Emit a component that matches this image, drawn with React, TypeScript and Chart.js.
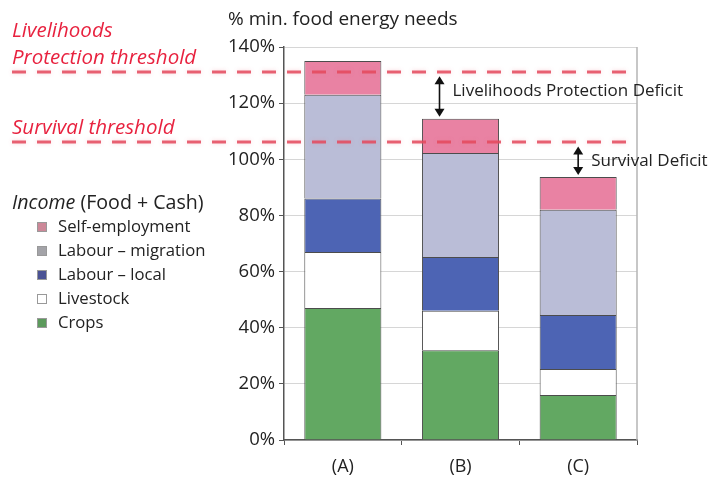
import { useEffect, useRef } from 'react';
import { Chart, registerables } from 'chart.js';

Chart.register(...registerables);

// Household income by source, as % of minimum food energy needs
const categories = ['(A)', '(B)', '(C)'];
const crops = [47, 32, 16];
const livestock = [20, 14, 9.3];
const labourLocal = [19, 19.2, 19.2];
const labourMigration = [37, 37, 37.5];
const selfEmployment = [12, 12.2, 11.7];

const seriesNames = ['Crops', 'Livestock', 'Labour – local', 'Labour – migration', 'Self-employment'];
const seriesFills = ['#62a862', '#ffffff', '#4d64b4', '#babdd7', '#e982a3'];
const legendFills = ['#5c9a5c', '#ffffff', '#4a5294', '#a3a3a8', '#cc8898'];

const yTickValues = [0, 20, 40, 60, 80, 100, 120, 140];

// Thresholds and the deficit each one shows
const thresholdValues = [131, 106];
const thresholdLabels = [['Livelihoods', 'Protection threshold'], ['Survival threshold']];
const deficitLabels = ['Livelihoods Protection Deficit', 'Survival Deficit'];
const deficitBars = [1, 2];

const FONT = '"Open Sans", "Noto Sans", sans-serif';
const RED = '#e8223f';

const seriesData = [crops, livestock, labourLocal, labourMigration, selfEmployment];

function barTotal(i: number) {
  return seriesData.reduce((s, arr) => s + arr[i], 0);
}

function doubleArrow(ctx: CanvasRenderingContext2D, x: number, y1: number, y2: number) {
  const h = 8;
  const w = 5;
  ctx.strokeStyle = '#111';
  ctx.fillStyle = '#111';
  ctx.lineWidth = 1.6;
  ctx.setLineDash([]);
  ctx.beginPath();
  ctx.moveTo(x, y1 + h - 1);
  ctx.lineTo(x, y2 - h + 1);
  ctx.stroke();
  ctx.beginPath();
  ctx.moveTo(x, y1);
  ctx.lineTo(x - w, y1 + h);
  ctx.lineTo(x + w, y1 + h);
  ctx.closePath();
  ctx.fill();
  ctx.beginPath();
  ctx.moveTo(x, y2);
  ctx.lineTo(x - w, y2 - h);
  ctx.lineTo(x + w, y2 - h);
  ctx.closePath();
  ctx.fill();
}

const overlayPlugin = {
  id: 'overlay',
  beforeDatasetsDraw(chart: any) {
    const { ctx, chartArea } = chart;
    ctx.save();
    ctx.strokeStyle = '#b4b4b4';
    ctx.lineWidth = 1.5;
    ctx.beginPath();
    ctx.moveTo(chartArea.right, chartArea.top);
    ctx.lineTo(chartArea.right, chartArea.bottom);
    ctx.stroke();
    ctx.restore();
  },
  afterDatasetsDraw(chart: any) {
    const { ctx, chartArea } = chart;
    const xs = chart.scales.x;
    const ys = chart.scales.y;
    ctx.save();

    // dashed threshold lines
    ctx.strokeStyle = 'rgba(228, 72, 92, 0.85)';
    ctx.lineWidth = 3;
    ctx.setLineDash([14, 11]);
    ctx.shadowColor = 'rgba(235, 120, 135, 0.35)';
    ctx.shadowBlur = 4;
    thresholdValues.forEach((v) => {
      const py = Math.round(ys.getPixelForValue(v));
      ctx.beginPath();
      ctx.moveTo(12, py);
      ctx.lineTo(chartArea.right, py);
      ctx.stroke();
    });
    ctx.shadowBlur = 0;
    ctx.shadowColor = 'transparent';

    // threshold names
    ctx.fillStyle = RED;
    ctx.font = `italic 20.5px ${FONT}`;
    ctx.textBaseline = 'middle';
    ctx.textAlign = 'left';
    thresholdLabels.forEach((lines, i) => {
      const py = ys.getPixelForValue(thresholdValues[i]);
      lines.forEach((t, j) => {
        const off = (lines.length - j) * 27 - 13;
        ctx.fillText(t, 12, py - off);
      });
    });

    // deficit arrows
    deficitBars.forEach((bi, i) => {
      const top = ys.getPixelForValue(thresholdValues[i]) + 4;
      const bottom = ys.getPixelForValue(barTotal(bi)) - 2;
      const px = xs.getPixelForValue(bi) - (i === 0 ? 21 : 0);
      doubleArrow(ctx, px, top, bottom);
      ctx.fillStyle = '#222';
      ctx.font = `17px ${FONT}`;
      ctx.textBaseline = 'middle';
      ctx.fillText(deficitLabels[i], px + 13, (top + bottom) / 2 - (i === 0 ? 5 : 0));
    });

    // axis title
    ctx.fillStyle = '#222';
    ctx.font = `19px ${FONT}`;
    ctx.fillText('% min. food energy needs', 228, 20);

    // legend
    ctx.font = `italic 19.6px ${FONT}`;
    ctx.fillText('Income', 12, 203);
    const w = ctx.measureText('Income').width;
    ctx.font = `19.6px ${FONT}`;
    ctx.fillText(' (Food + Cash)', 12 + w, 203);
    ctx.font = `16.7px ${FONT}`;
    for (let k = seriesNames.length - 1, row = 0; k >= 0; k--, row++) {
      const cy = 227 + row * 24;
      ctx.fillStyle = legendFills[k];
      ctx.fillRect(37, cy - 5, 10, 10);
      ctx.strokeStyle = '#999';
      ctx.lineWidth = 1;
      ctx.strokeRect(37.5, cy - 4.5, 9, 9);
      ctx.fillStyle = '#222';
      ctx.fillText(seriesNames[k], 58, cy);
    }
    ctx.restore();
  },
};

export default function App() {
  const ref = useRef<HTMLCanvasElement>(null);

  useEffect(() => {
    if (!ref.current) return;
    const chart = new Chart(ref.current, {
      type: 'bar',
      data: {
        labels: categories,
        datasets: seriesData.map((d, i) => ({
          label: seriesNames[i],
          data: d,
          backgroundColor: seriesFills[i],
          borderColor: '#4c4c4c',
          borderWidth: 1,
          categoryPercentage: 1,
          barPercentage: 0.655,
        })),
      },
      options: {
        responsive: false,
        animation: false,
        layout: { padding: { left: 224, right: 80, top: 47, bottom: 0 } },
        plugins: { legend: { display: false }, tooltip: { enabled: false } },
        scales: {
          x: {
            stacked: true,
            offset: true,
            grid: { offset: true, drawOnChartArea: false, tickLength: 5, tickColor: '#555' },
            border: { color: '#555', width: 1.5 },
            ticks: { color: '#222', font: { family: FONT, size: 18 }, padding: 11 },
            afterFit: (s: any) => {
              s.height = 38;
            },
          },
          y: {
            stacked: true,
            min: 0,
            max: 140,
            afterBuildTicks: (s: any) => {
              s.ticks = yTickValues.map((v) => ({ value: v }));
            },
            ticks: {
              color: '#222',
              font: { family: FONT, size: 18.5 },
              padding: 4,
              callback: (v: any) => `${v}%`,
            },
            grid: { color: '#d6d6d6', lineWidth: 1, tickLength: 5, tickColor: '#555' },
            border: { color: '#555', width: 1.5 },
            afterFit: (s: any) => {
              s.width = 60;
            },
          },
        },
      },
      plugins: [overlayPlugin],
    });
    return () => chart.destroy();
  }, []);

  return (
    <div style={{ position: 'fixed', left: 0, top: 0, width: 717, height: 478, background: '#fff' }}>
      <canvas ref={ref} width={717} height={478} />
    </div>
  );
}
